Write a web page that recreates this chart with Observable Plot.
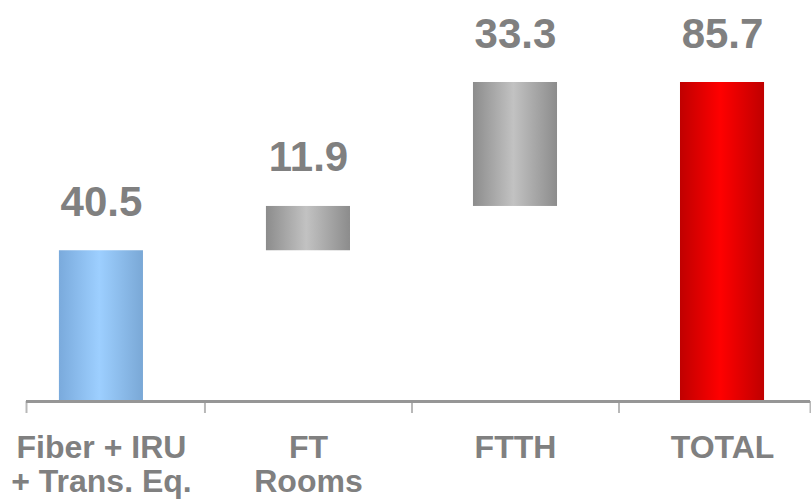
<!DOCTYPE html>
<html><head><meta charset="utf-8">
<script src="https://cdn.jsdelivr.net/npm/d3@7"></script>
<script src="https://cdn.jsdelivr.net/npm/@observablehq/plot@0.6"></script>
<style>body{margin:0;background:#fff;overflow:hidden} #chart{width:811px;height:499px}</style>
</head><body><div id="chart"></div>
<script>
// ---- data ----
const categories = ["Fiber + IRU\n+ Trans. Eq.", "FT\nRooms", "FTTH", "TOTAL"];
const values = [40.5, 11.9, 33.3, 85.7];
const valueLabels = ["40.5", "11.9", "33.3", "85.7"];
const kinds = ["start", "step", "step", "total"];

// ---- build waterfall rows from data ----
const gradientFor = {start: "url(#gBlue)", step: "url(#gGray)", total: "url(#gRed)"};
let running = 0;
const rows = categories.map((c, i) => {
  const k = kinds[i];
  let y1, y2;
  if (k === "step") { y1 = running; y2 = running + values[i]; }
  else { y1 = 0; y2 = values[i]; }
  running = y2;
  return {i, cat: c, kind: k, y1, y2, label: valueLabels[i], fill: gradientFor[k]};
});

// layout of the index axis
const xDomain = [-0.362, categories.length - 1 + 0.425];
const halfBar = 0.203;
const boundaryTicks = [xDomain[0], ...d3.range(categories.length - 1).map(i => i + 0.5), xDomain[1]];

const chart = Plot.plot({
  width: 811, height: 499,
  marginTop: 82, marginBottom: 98, marginLeft: 26, marginRight: 1,
  style: {fontFamily: "'Liberation Sans', Arial, sans-serif", background: "#fff"},
  x: {domain: xDomain, axis: null, label: null},
  y: {domain: [0, d3.max(values)], axis: null, label: null},
  color: {type: "identity"},
  marks: [
    Plot.rectY(rows, {x1: d => d.i - halfBar, x2: d => d.i + halfBar, y1: "y1", y2: "y2", fill: "fill"}),
    Plot.axisX({ticks: boundaryTicks, tickSize: 12, tickFormat: () => "", label: null, stroke: "#b8b8b8", strokeWidth: 2}),
    Plot.ruleY([0], {stroke: "#969696", strokeWidth: 3}),
    Plot.text(rows, {x: "i", y: "y2", text: "label", dy: -35, lineAnchor: "bottom",
      fontSize: 42, fontWeight: "bold", fill: "#808080"}),
    Plot.text(rows, {x: "i", frameAnchor: "bottom", text: "cat", dy: 33, lineAnchor: "top", lineHeight: 1.05,
      fontSize: 32, fontWeight: "bold", fill: "#808080"})
  ]
});

// gradient definitions for the cylindrical bar shading
const defs = d3.select(chart).insert("defs", ":first-child");
const grads = {
  gBlue: ["#7aaadc", "#9dcfff", "#7aa8d6"],
  gGray: ["#8c8c8c", "#c2c2c2", "#8c8c8c"],
  gRed:  ["#c00000", "#ff0000", "#bf0000"]
};
for (const [id, [a, b, c]] of Object.entries(grads)) {
  const g = defs.append("linearGradient").attr("id", id).attr("x1", "0").attr("x2", "1").attr("y1", "0").attr("y2", "0");
  g.append("stop").attr("offset", "0%").attr("stop-color", a);
  g.append("stop").attr("offset", "48%").attr("stop-color", b);
  g.append("stop").attr("offset", "100%").attr("stop-color", c);
}
document.getElementById("chart").appendChild(chart);
</script>
</body></html>
